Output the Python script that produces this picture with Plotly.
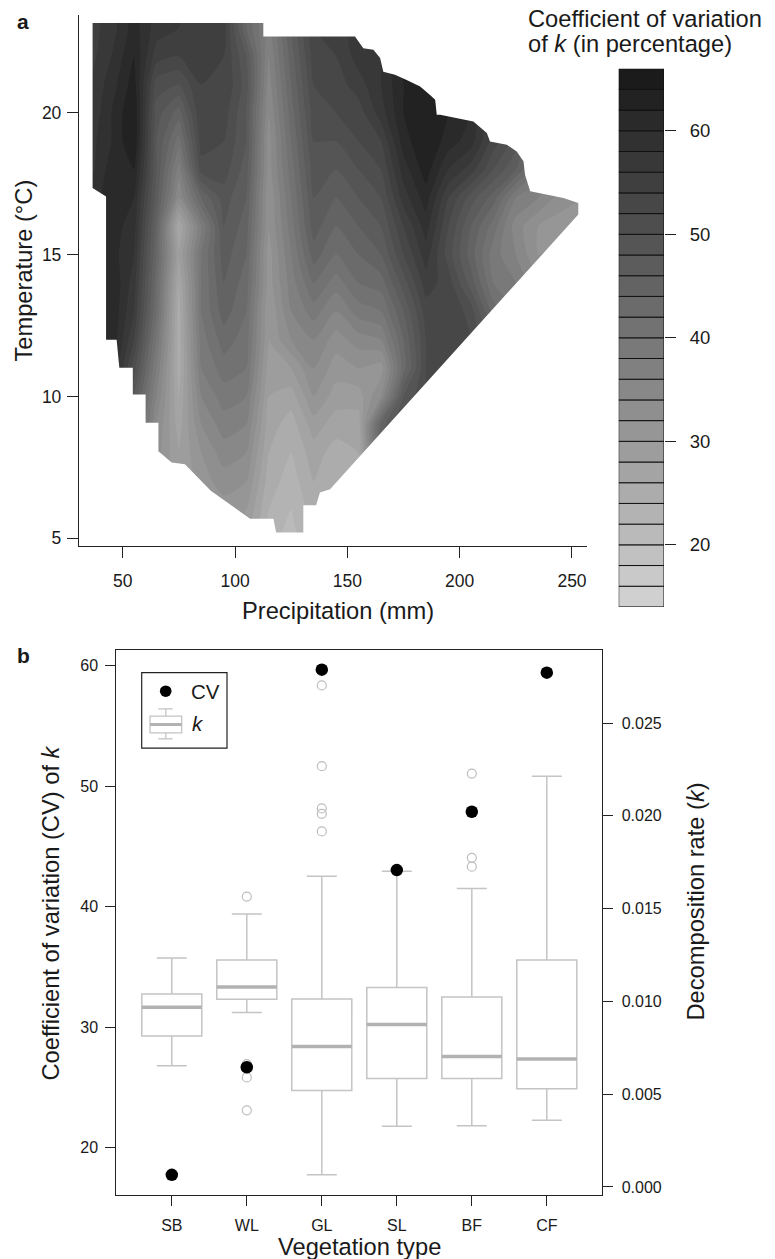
import numpy as np
import plotly.graph_objects as go

W, H = 775, 1259
FONT = "Liberation Sans, Arial, Helvetica, sans-serif"
INK = "#1a1a1a"

# ---------------- panel a: CV of k across the climate space ----------------
precip = [35, 45, 55, 65, 75, 85, 95, 105, 115, 125, 135, 145,
          155, 165, 175, 185, 195, 205, 215, 225, 235, 245, 255]
temp = list(range(5, 25))

# CV (%) for temperatures 5..24 °C, one list per precipitation column
cv_p035 = [50, 52, 54, 56, 58, 60, 61, 61, 61, 61, 60, 60, 59, 57, 57, 56, 56, 55, 55, 55]
cv_p045 = [50, 52, 54, 56, 58, 60, 61, 62, 62, 62, 61, 61, 61, 61, 60, 60, 59, 58, 57, 57]
cv_p055 = [44, 44, 44, 45, 46, 48, 51, 54, 56, 57, 58, 59, 60, 62, 64, 64, 63, 62, 61, 61]
cv_p065 = [33, 33, 33, 33, 34, 36, 38, 40, 42, 43, 44, 45, 47, 48, 48, 49, 51, 55, 57, 57]
cv_p075 = [28, 28, 28, 28, 27, 26, 25, 25, 25, 26, 28, 26, 34, 37, 41, 45, 50, 54, 56, 56]
cv_p085 = [30, 30, 31, 32, 34, 36, 38, 39, 40, 40, 40, 38, 44, 51, 53, 54, 54, 55, 56, 56]
cv_p095 = [30, 31, 33, 35, 37, 39, 41, 43, 45, 46, 47, 48, 49, 51, 52, 53, 54, 54, 55, 55]
cv_p105 = [29, 30, 32, 34, 36, 38, 40, 41, 42, 43, 44, 45, 46, 47, 48, 48, 49, 48, 44, 44]
cv_p115 = [23, 24, 25, 26, 27, 28, 29, 30, 30, 31, 31, 32, 32, 33, 33, 34, 35, 36, 37, 37]
cv_p125 = [21, 22, 23, 24, 25, 27, 30, 34, 36, 37, 38, 39, 40, 41, 42, 43, 44, 45, 46, 46]
cv_p135 = [25, 25, 26, 27, 29, 32, 34, 36, 39, 42, 45, 47, 48, 49, 50, 51, 52, 53, 54, 54]
cv_p145 = [24, 24, 24, 25, 27, 29, 31, 33, 36, 39, 42, 44, 46, 48, 50, 52, 53, 54, 55, 55]
cv_p155 = [26, 26, 26, 26, 27, 29, 32, 35, 39, 42, 44, 46, 48, 50, 52, 53, 55, 57, 57, 57]
cv_p165 = [45, 45, 45, 45, 45, 34, 31, 36, 40, 43, 46, 48, 50, 52, 54, 57, 58, 58, 59, 59]
cv_p175 = [50, 50, 50, 50, 50, 48, 43, 44, 46, 49, 52, 54, 57, 59, 61, 62, 62, 63, 63, 63]
cv_p185 = [52, 52, 52, 52, 52, 52, 52, 52, 53, 55, 57, 59, 61, 63, 64, 64, 64, 64, 64, 64]
cv_p195 = [54, 54, 54, 54, 54, 54, 54, 54, 54, 53, 51, 52, 54, 58, 61, 62, 62, 62, 62, 62]
cv_p205 = [52, 52, 52, 52, 52, 52, 52, 52, 51, 47, 45, 46, 49, 55, 59, 60, 60, 60, 60, 60]
cv_p215 = [46, 46, 46, 46, 46, 46, 46, 46, 43, 40, 39, 41, 45, 50, 53, 54, 55, 55, 55, 55]
cv_p225 = [40, 40, 40, 40, 40, 40, 40, 40, 40, 38, 36, 35, 38, 46, 49, 50, 50, 50, 50, 50]
cv_p235 = [34, 34, 34, 34, 34, 34, 34, 34, 34, 34, 32, 32, 36, 40, 40, 40, 40, 40, 40, 40]
cv_p245 = [33, 33, 33, 33, 33, 33, 33, 33, 33, 33, 33, 31, 33, 36, 36, 36, 36, 36, 36, 36]
cv_p255 = [33, 33, 33, 33, 33, 33, 33, 33, 33, 33, 33, 32, 32, 33, 33, 33, 33, 33, 33, 33]

cv_columns = [cv_p035, cv_p045, cv_p055, cv_p065, cv_p075, cv_p085, cv_p095, cv_p105,
              cv_p115, cv_p125, cv_p135, cv_p145, cv_p155, cv_p165, cv_p175, cv_p185,
              cv_p195, cv_p205, cv_p215, cv_p225, cv_p235, cv_p245, cv_p255]
cv_grid = np.array(cv_columns, dtype=float).T  # rows follow temperature

# outline of the sampled climate space (clockwise)
domain_precip = [36.6, 112.6, 112.6, 153.4, 157.1, 161.6, 164.6, 166.0, 171.2, 176.4,
                 182.4, 186.8, 189.1, 189.8, 191.3, 206.1, 212.1, 213.5, 221.0, 225.4,
                 228.4, 229.1, 231.4, 246.2, 252.8, 252.8, 142.3, 137.8, 136.1, 130.4,
                 130.4, 118.3, 117.1, 106.7, 89.2, 77.7, 71.8, 65.9, 65.9, 60.2,
                 60.2, 54.5, 54.5, 48.5, 47.3, 42.6, 42.6, 36.6, 36.6]
domain_temp = [23.17, 23.17, 22.69, 22.69, 22.28, 22.22, 21.93, 21.45, 21.34, 21.16,
               20.93, 20.63, 20.46, 19.93, 19.93, 19.69, 19.29, 18.99, 18.87, 18.64,
               18.29, 17.82, 17.23, 17.00, 16.82, 16.41, 6.73, 6.61, 6.16, 6.16,
               5.20, 5.20, 5.69, 5.69, 6.67, 7.61, 7.67, 8.07, 9.07, 9.07,
               10.07, 10.07, 11.01, 11.01, 12.00, 12.00, 17.05, 17.35, 23.17]

level_start, level_end, level_step = 14, 66, 2
precip_ticks = [50, 100, 150, 200, 250]
temp_ticks = [5, 10, 15, 20]
cbar_ticks = [20, 30, 40, 50, 60]

# ---------------- panel b: decomposition rate by vegetation type ----------------
veg_types = ["SB", "WL", "GL", "SL", "BF", "CF"]
cv_by_type = [17.73, 26.66, 59.67, 43.03, 47.87, 59.42]
k_lower = [0.00653, 0.00940, 0.00066, 0.00327, 0.00330, 0.00359]
k_q1 = [0.00813, 0.01012, 0.00520, 0.00585, 0.00585, 0.00529]
k_median = [0.00969, 0.01078, 0.00757, 0.00876, 0.00703, 0.00689]
k_q3 = [0.01040, 0.01223, 0.01013, 0.01075, 0.01024, 0.01223]
k_upper = [0.01234, 0.01471, 0.01675, 0.01702, 0.01609, 0.02214]
k_outliers = {
    "WL": [0.01565, 0.00662, 0.00590, 0.00413],
    "GL": [0.02703, 0.02268, 0.02040, 0.02011, 0.01916],
    "BF": [0.02228, 0.01774, 0.01726],
}
cv_ticks = [20, 30, 40, 50, 60]
k_ticks = [0.0, 0.005, 0.010, 0.015, 0.020, 0.025]


def px(x):
    return x / W


def py(y):
    return 1 - y / H


GRAY_LO, GRAY_HI = 215, 20
colorscale = [[0, f"rgb({GRAY_LO},{GRAY_LO},{GRAY_LO})"],
              [1, f"rgb({GRAY_HI},{GRAY_HI},{GRAY_HI})"]]


def band_color(mid):
    # same mapping plotly uses for filled contour bands
    n_lev = (level_end - level_start) // level_step + 1
    lo = level_start - level_step / 2
    hi = level_start + (n_lev - 0.5) * level_step
    f = (mid - lo) / (hi - lo)
    g = int(round(GRAY_LO + (GRAY_HI - GRAY_LO) * f))
    return f"rgb({g},{g},{g})"


fig = go.Figure()

fig.add_trace(go.Contour(
    x=precip, y=temp, z=cv_grid,
    autocontour=False,
    contours=dict(start=level_start, end=level_end, size=level_step,
                  coloring="fill", showlines=False),
    colorscale=colorscale, showscale=False,
    line=dict(width=0, smoothing=0.6),
    xaxis="x", yaxis="y", hoverinfo="skip",
))

# white out everything outside the sampled climate space
x0, x1 = 30.55, 256.68
y0, y1 = 4.72, 23.45
mask_x = [x0, x1, x1, x0, x0] + domain_precip + [x0]
mask_y = [y0, y0, y1, y1, y0] + domain_temp + [y0]
fig.add_trace(go.Scatter(
    x=mask_x, y=mask_y, mode="lines", fill="toself", fillcolor="white",
    line=dict(width=0, color="white"), xaxis="x", yaxis="y", hoverinfo="skip",
))

# stepped colour key
band_lows = list(range(level_start, level_end, level_step))
fig.add_trace(go.Bar(
    x=[0.5] * len(band_lows), y=[level_step] * len(band_lows), base=band_lows,
    width=1.0,
    marker=dict(color=[band_color(b + level_step / 2) for b in band_lows],
                line=dict(color="#111111", width=1)),
    xaxis="x3", yaxis="y3", hoverinfo="skip",
))

# ---------------- panel b traces ----------------
positions = list(range(1, len(veg_types) + 1))
BOX_LINE = "#c4c4c4"
MED_LINE = "#b2b2b2"

fig.add_trace(go.Box(
    x=positions, q1=k_q1, median=k_median, q3=k_q3,
    lowerfence=k_lower, upperfence=k_upper,
    width=0.8, whiskerwidth=0.5, boxpoints=False,
    fillcolor="white", line=dict(color=BOX_LINE, width=1.5),
    xaxis="x2", yaxis="y2", hoverinfo="skip",
))

med_x, med_y = [], []
for p, m in zip(positions, k_median):
    med_x += [p - 0.4, p + 0.4, None]
    med_y += [m, m, None]
fig.add_trace(go.Scatter(
    x=med_x, y=med_y, mode="lines", line=dict(color=MED_LINE, width=3.5),
    xaxis="x2", yaxis="y2", hoverinfo="skip",
))

out_x, out_y = [], []
for p, v in zip(positions, veg_types):
    for val in k_outliers.get(v, []):
        out_x.append(p)
        out_y.append(val)
fig.add_trace(go.Scatter(
    x=out_x, y=out_y, mode="markers",
    marker=dict(symbol="circle-open", size=9, color="#bdbdbd", line=dict(width=1.2)),
    xaxis="x2", yaxis="y2", hoverinfo="skip",
))

fig.add_trace(go.Scatter(
    x=positions, y=cv_by_type, mode="markers",
    marker=dict(symbol="circle", size=12.5, color="black"),
    xaxis="x2", yaxis="y4", name="CV",
))

AX = dict(showgrid=False, zeroline=False, ticks="outside", tickcolor="#222222",
          tickwidth=1.3, linecolor="#222222", linewidth=1.3,
          tickfont=dict(family=FONT, color=INK))

layout_a_x = dict(AX, domain=[px(79), px(587)], range=[x0, x1], anchor="y",
                  showline=True, ticklen=11, tickvals=precip_ticks,
                  tickfont=dict(family=FONT, color=INK, size=17.5), ticklabelstandoff=8)
layout_a_y = dict(AX, domain=[py(547), py(15)], range=[y0, y1], anchor="x",
                  showline=True, ticklen=11, tickvals=temp_ticks,
                  tickfont=dict(family=FONT, color=INK, size=17.5), ticklabelstandoff=2)

layout_c_x = dict(domain=[px(618.7), px(664)], range=[0, 1], anchor="y3",
                  showgrid=False, zeroline=False, showline=False,
                  showticklabels=False, ticks="")
layout_c_y = dict(AX, domain=[py(607.9), py(68.8)], range=[level_start, level_end],
                  anchor="x3", side="right", showline=False, ticklen=11,
                  tickvals=cbar_ticks,
                  tickfont=dict(family=FONT, color=INK, size=18.5), ticklabelstandoff=10)

layout_b_x = dict(AX, domain=[px(116.3), px(602.3)], range=[0.26, 6.74], anchor="y2",
                  showline=True, mirror=True, ticklen=10, tickvals=positions,
                  ticktext=veg_types,
                  tickfont=dict(family=FONT, color=INK, size=16), ticklabelstandoff=6)
layout_b_k = dict(AX, domain=[py(1196.7), py(650.7)], range=[-0.000425, 0.02896],
                  anchor="x2", side="right", showline=True, mirror=True, ticklen=10,
                  tickvals=k_ticks, tickformat=".3f",
                  tickfont=dict(family=FONT, color=INK, size=16), ticklabelstandoff=5)
layout_b_cv = dict(AX, range=[16.07, 61.33], overlaying="y2", side="left",
                   anchor="x2", showline=False, ticklen=10, tickvals=cv_ticks,
                   tickfont=dict(family=FONT, color=INK, size=16), ticklabelstandoff=4)

TITLE = dict(family=FONT, color=INK, size=23.7)
annotations = [
    dict(text="<b>a</b>", x=px(23), y=py(22), font=dict(family=FONT, color=INK, size=21)),
    dict(text="<b>b</b>", x=px(23), y=py(657), font=dict(family=FONT, color=INK, size=21)),
    dict(text="Temperature (°C)", x=px(24), y=py(271), textangle=-90, font=TITLE),
    dict(text="Precipitation (mm)", x=px(338), y=py(612), font=TITLE),
    dict(text="Coefficient of variation", x=px(526), y=py(19), xanchor="left", font=TITLE),
    dict(text="of <i>k</i> (in percentage)", x=px(526), y=py(44), xanchor="left", font=TITLE),
    dict(text="Coefficient of variation (CV) of <i>k</i>", x=px(51), y=py(915),
         textangle=-90, font=TITLE),
    dict(text="Decomposition rate (<i>k</i>)", x=px(696), y=py(903), textangle=-90, font=TITLE),
    dict(text="Vegetation type", x=px(359), y=py(1249), font=TITLE),
    dict(text="CV", x=px(189), y=py(692.5), xanchor="left",
         font=dict(family=FONT, color=INK, size=20.5)),
    dict(text="<i>k</i>", x=px(190), y=py(725), xanchor="left",
         font=dict(family=FONT, color=INK, size=20.5)),
]
for a in annotations:
    a.setdefault("xanchor", "center")
    a.setdefault("yanchor", "middle")
    a.update(xref="paper", yref="paper", showarrow=False)

# legend frame with its two keys
lg_box_l, lg_box_r = 150, 181.7
lg_mid = (lg_box_l + lg_box_r) / 2
shapes = [
    dict(type="rect", x0=px(141.7), x1=px(227), y0=py(749.3), y1=py(673.7),
         line=dict(color="#222222", width=1.2), fillcolor="white"),
    dict(type="circle", x0=px(165.7 - 5.8), x1=px(165.7 + 5.8), y0=py(692.3 + 5.8),
         y1=py(692.3 - 5.8), line=dict(width=0), fillcolor="black"),
    dict(type="line", x0=px(lg_mid), x1=px(lg_mid), y0=py(710), y1=py(740),
         line=dict(color=BOX_LINE, width=1.3)),
    dict(type="rect", x0=px(lg_box_l), x1=px(lg_box_r), y0=py(734), y1=py(717.3),
         line=dict(color=BOX_LINE, width=1.3), fillcolor="white"),
    dict(type="line", x0=px(lg_box_l), x1=px(lg_box_r), y0=py(725.7), y1=py(725.7),
         line=dict(color=MED_LINE, width=3)),
    dict(type="line", x0=px(158.3), x1=px(172.7), y0=py(710), y1=py(710),
         line=dict(color=BOX_LINE, width=1.3)),
    dict(type="line", x0=px(158.3), x1=px(172.7), y0=py(740), y1=py(740),
         line=dict(color=BOX_LINE, width=1.3)),
]
for s in shapes:
    s.update(xref="paper", yref="paper", layer="above")

fig.update_layout(
    width=W, height=H, margin=dict(l=0, r=0, t=0, b=0),
    paper_bgcolor="white", plot_bgcolor="white",
    showlegend=False, barmode="overlay", boxmode="overlay",
    font=dict(family=FONT, color=INK),
    xaxis=layout_a_x, yaxis=layout_a_y,
    xaxis2=layout_b_x, yaxis2=layout_b_k,
    xaxis3=layout_c_x, yaxis3=layout_c_y,
    yaxis4=layout_b_cv,
    annotations=annotations, shapes=shapes,
)

fig.write_html("out.html")
